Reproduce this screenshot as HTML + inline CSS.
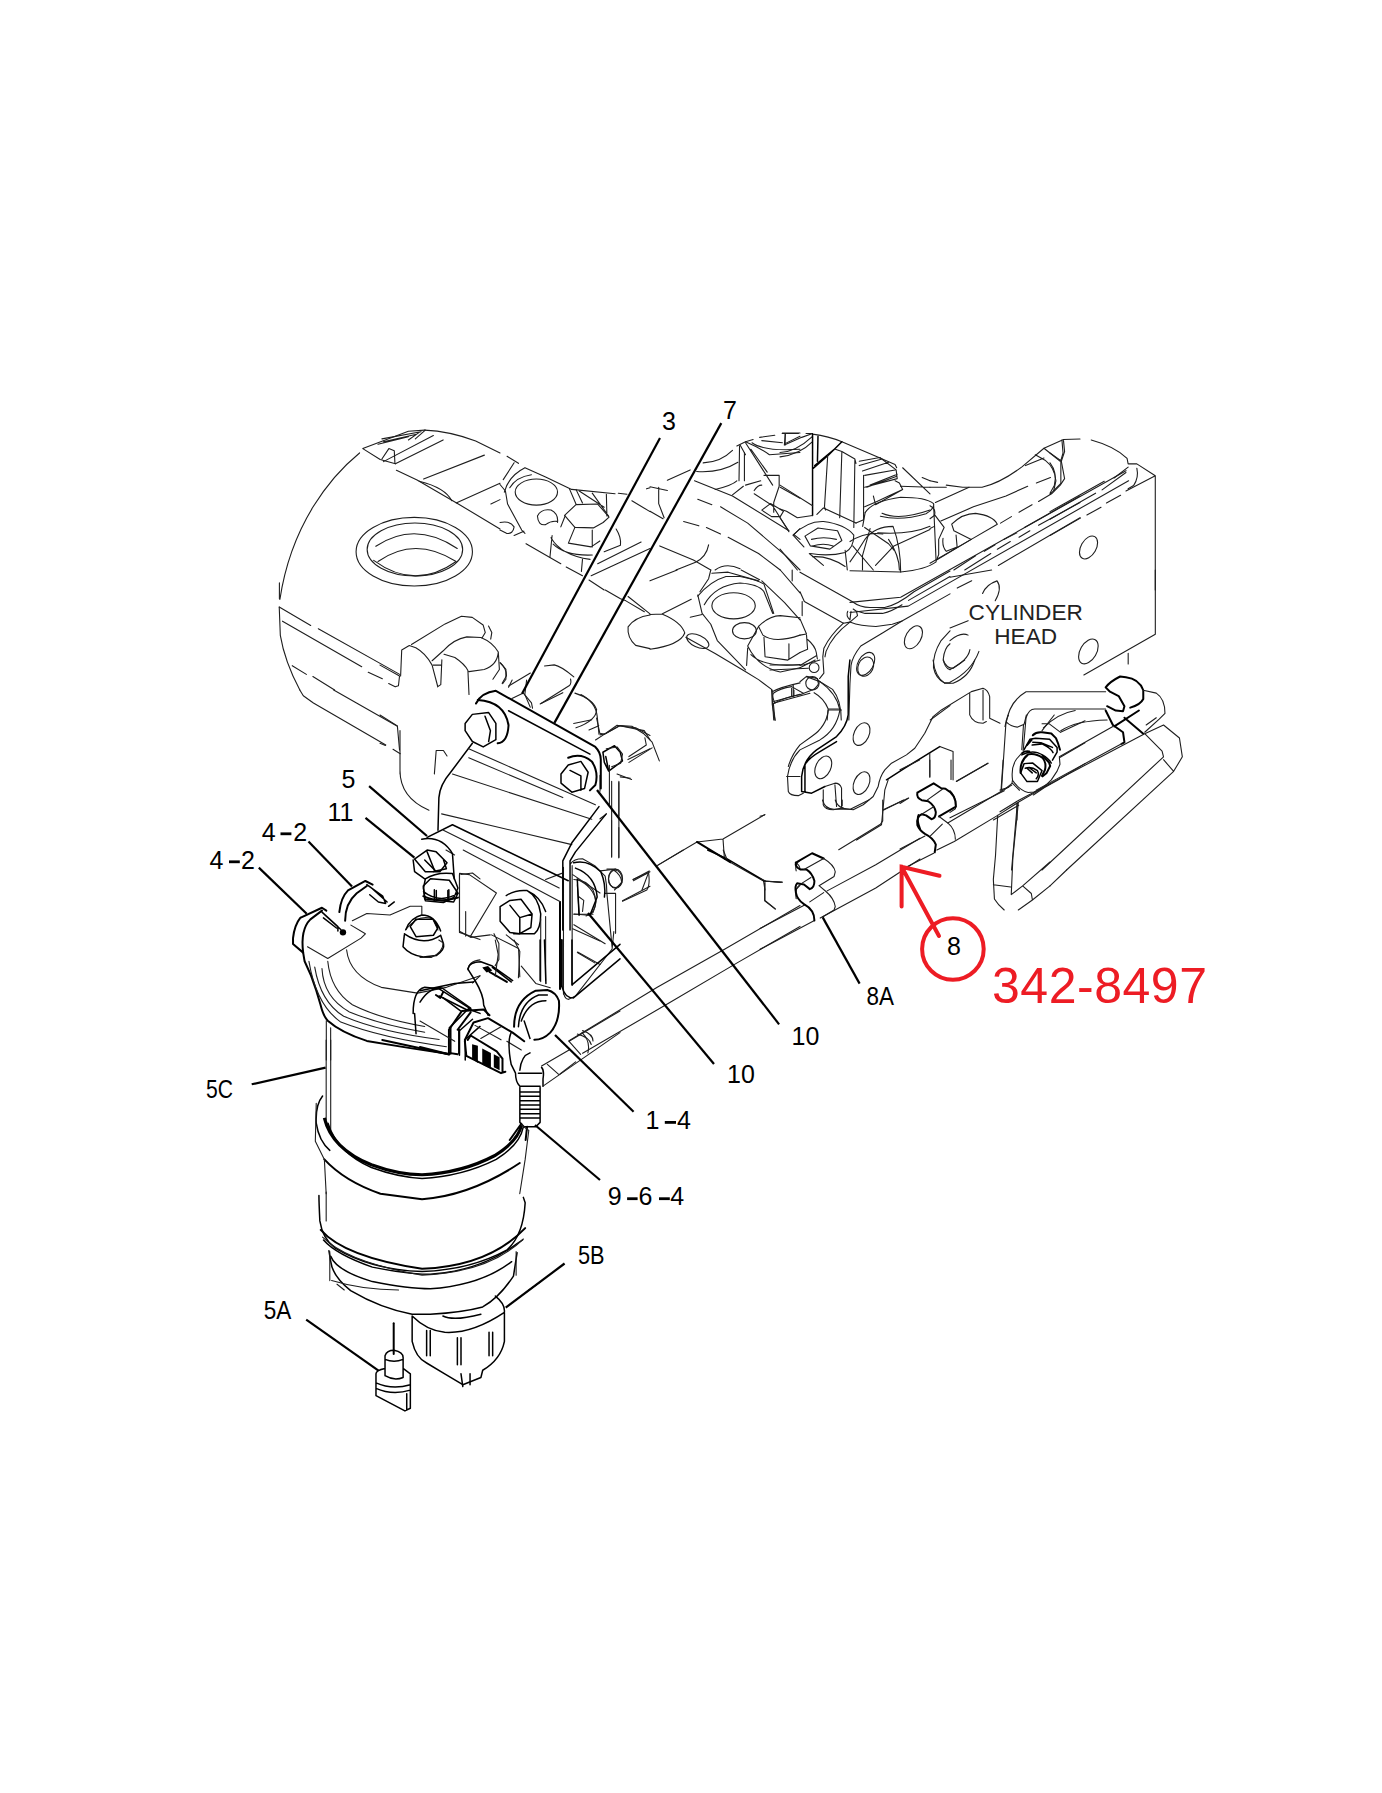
<!DOCTYPE html>
<html><head><meta charset="utf-8"><style>
html,body{margin:0;padding:0;background:#fff;}
svg{display:block;}
text{font-family:"Liberation Sans",sans-serif;}
.t{fill:none;stroke:#1e1e1e;stroke-width:1.1;vector-effect:non-scaling-stroke;stroke-linecap:round;stroke-linejoin:round;}
.m{fill:none;stroke:#000;stroke-width:1.5;vector-effect:non-scaling-stroke;stroke-linecap:round;stroke-linejoin:round;}
.k{fill:none;stroke:#000;stroke-width:2;vector-effect:non-scaling-stroke;stroke-linecap:round;stroke-linejoin:round;}
.L{fill:none;stroke:#000;stroke-width:2.2;stroke-linecap:butt;}
.lb{font-size:25px;fill:#000;}
</style></head><body>
<svg width="1382" height="1793" viewBox="0 0 1382 1793">
<rect width="1382" height="1793" fill="#fff"/>
<g transform="translate(200,390) scale(0.217077)">
<path class="t" d="M735,290 C600,400 420,620 368,965"/>
<path class="t" d="M365,1000 L370,1130 Q390,1250 460,1382"/>
<path class="t" d="M750,270 L830,320 L900,340 M750,270 L960,190 L1035,185"/>
<path class="t" d="M1035,185 Q1150,190 1270,235 L1382,290"/>
<path class="t" d="M900,340 L1120,230 M845,330 L1075,210"/>
<path class="t" d="M838,225 L1018,192 M845,238 L992,205 M820,250 L960,215 M992,225 L1038,185 M960,230 L1010,195 M838,318 L870,270 L895,280 L898,338"/>
<path class="t" d="M905,370 L1000,415 L1190,525 L1382,640"/>
<path class="t" d="M1030,410 L1310,300 M1180,520 L1382,430 M1340,525 L1382,505"/>
<path class="t" d="M1010,420 Q1130,450 1160,510"/>
<ellipse class="t" cx="987" cy="745" rx="268" ry="158"/>
<ellipse class="t" cx="990" cy="735" rx="220" ry="122"/>
<path class="t" d="M810,720 Q990,600 1185,730 M820,790 Q990,670 1180,790 M800,785 Q990,925 1180,790"/>
<path class="t" d="M365,1000 L510,1085 M545,1100 L920,1310 M380,1065 L745,1275 M425,1270 L490,1310 M520,1320 L620,1382 M775,1300 L840,1330"/>
</g>
<g transform="translate(300,1240) scale(0.180897)">
<path class="m" d="M130,0 Q200,80 400,150 Q600,190 720,190 Q1000,170 1200,20 L1230,0"/>
<path class="m" d="M170,90 Q200,170 400,230 Q600,270 720,270 Q1000,250 1170,120"/>
<path class="m" d="M160,60 L170,120 Q180,200 280,280 Q450,380 620,410 L720,410 Q900,400 1010,370 Q1100,320 1180,200 L1200,70"/>
<path class="m" d="M620,420 L620,560 Q640,650 700,680 L800,740 L900,800 L1000,760 L1010,720 Q1110,660 1130,560 L1130,390 M620,420 Q700,500 800,510 Q950,520 1130,400 M790,420 Q850,450 1000,410 M1080,310 Q1130,350 1130,390"/>
<path class="m" d="M700,500 L700,640 M720,500 L720,640 M870,540 L870,690 M890,540 L890,690 M1045,510 L1045,640 M1065,510 L1065,640 M890,740 L900,810 M940,740 L940,800"/>
<path class="m" d="M470,640 Q480,610 520,610 Q570,620 570,650 L570,760 M470,640 L470,750 M470,660 Q520,680 570,660 M470,750 Q520,780 570,760 M420,740 Q420,720 470,710 M420,740 L420,860 L580,945 L610,930 L610,740 L570,710 M420,790 Q510,830 610,800 M420,820 Q510,860 610,830 M590,850 L590,940"/>
<path class="k" d="M518,460 L518,630"/>
</g>
<g transform="translate(600,690) scale(0.144718)">
<path class="t" d="M0,310 L40,300 L140,245 L220,250 L300,300 L360,360 L410,490 M310,330 L320,380 L200,460 M360,400 L200,500"/>
<path class="m" d="M20,430 L100,385 L140,430 L155,490 L60,560 L30,500 Z M40,460 L60,560"/>
<path class="t" d="M65,520 L65,790 M130,640 L130,870 M80,900 L80,1150 M130,950 L130,1160 M0,590 L0,700 M140,600 L210,610 M0,890 L40,860"/>
<path class="t" d="M0,1250 L90,1240 Q150,1280 150,1330 L100,1382 M230,1310 L340,1250 L290,1382"/>
<path class="t" d="M400,1210 L670,1050 L850,1030 L1140,860 M850,1030 L860,1170 M900,1190 L1130,1320 L1250,1330"/>
<path class="k" d="M670,1050 L900,1190"/>
<path class="t" d="M1190,0 L1190,100 L1210,210 M1200,80 L1382,30 M1340,0 L1340,40 M1350,1190 Q1382,1210 1382,1240 M1350,1382 L1382,1350 M1130,1320 L1140,1382"/>
</g>
<g transform="translate(560,850) scale(0.173661)">
<path class="t" d="M50,1100 L560,790 L950,570 L1382,320 M0,1290 L90,1220 M130,1170 L630,880 L1020,650 L1382,440 M100,1060 Q170,1080 180,1120 M130,1040 Q190,1060 190,1100"/>
<path class="k" d="M0,300 L0,800"/>
<path class="t" d="M20,800 Q20,860 50,860 L90,840 L300,570 L310,470 M70,90 L70,780 M60,80 Q80,50 130,50 L200,90 L260,150 Q270,200 270,250 L300,560 M20,100 L20,830"/>
<path class="t" d="M80,170 Q150,170 190,230 Q220,300 190,360 L150,380 M100,200 L110,370 M80,370 L190,370"/>
<ellipse class="t" cx="320" cy="165" rx="40" ry="55"/>
<path class="t" d="M270,110 L320,110 M260,250 L320,250 M320,250 L320,480 M80,430 L260,540 M100,590 L200,650"/>
<path class="m" d="M850,0 L960,50 L1180,180"/>
<path class="t" d="M1180,180 L1280,185 M1180,180 L1180,290 L1240,340 M940,0 L960,50 M1382,60 Q1350,80 1360,120 M1382,200 Q1350,220 1360,280 M360,295 L500,230 Q520,200 510,130 L420,170 M560,90 L710,0"/>
</g>
<g transform="translate(760,800) scale(0.115774)">
<path class="t" d="M0,1110 L390,905 M580,785 L1000,560 L1382,330 M0,1290 L470,1040 M520,1020 L1000,760 L1382,510"/>
<path class="k" d="M310,540 L450,460 L550,505 M310,540 Q300,580 350,600 L400,600 Q450,630 470,700 Q470,760 430,770 L380,730 L320,720 Q300,740 310,800 Q320,860 380,900 Q470,950 470,1040"/>
<path class="t" d="M380,600 L550,505 Q640,560 650,620 L640,660 L510,740 M360,720 L440,670 M510,740 L570,790 Q640,850 650,920 L640,950 L540,1010 M430,880 L550,800"/>
<path class="t" d="M680,430 L1040,210 L1060,180 L1060,0 M1060,90 L1240,0 M540,0 Q560,80 640,80 L780,80 L940,0 M650,0 Q670,60 720,70 M710,0 L710,50"/>
<path class="t" d="M0,140 L40,130 M0,680 L50,700 L190,710 M40,720 L40,870 L130,940"/>
<path class="k" d="M1370,130 Q1350,170 1382,250"/>
</g>
<g transform="translate(770,660) scale(0.166425)">
<path class="t" d="M300,130 Q400,200 420,300 Q400,420 300,480 L180,540 Q120,600 105,700 L110,790 Q120,815 170,815 L200,800 M350,300 L430,300 M350,300 Q340,400 250,460 L180,510 Q130,570 110,640"/>
<path class="m" d="M480,0 L470,100 L470,330 Q460,400 400,460 L280,540 Q200,600 190,700 L190,790 L250,800 L330,760 M210,630 Q230,590 300,550 L400,490 M210,630 L210,790"/>
<path class="t" d="M100,700 L180,700 M320,780 L320,870 Q330,900 380,900 L430,890 L430,770 Q420,740 390,740 L330,760 M390,750 L400,880"/>
<path class="t" d="M430,890 L500,900 L560,870 L620,820 L650,760 Q660,700 690,660 L730,620 L820,570 L870,530 L930,440 L980,340 L1030,300 L1210,190 L1280,170 Q1310,180 1320,220 L1320,350 L1382,380"/>
<path class="t" d="M1200,200 L1200,330 Q1220,380 1280,380 L1300,370 M1280,180 L1280,360"/>
<ellipse class="t" cx="550" cy="445" rx="45" ry="72" transform="rotate(25 550 445)"/>
<ellipse class="t" cx="320" cy="645" rx="45" ry="72" transform="rotate(25 320 645)"/>
<ellipse class="t" cx="550" cy="740" rx="45" ry="72" transform="rotate(25 550 740)"/>
<ellipse class="t" cx="575" cy="40" rx="45" ry="60" transform="rotate(25 575 40)"/>
<path class="m" d="M700,720 L810,650 L1020,520"/>
<path class="t" d="M1020,520 L1100,550 L1100,720 M710,720 L690,780 L670,990 L520,1082 M960,560 L960,700 M680,900 L830,830 M1120,730 L1310,620"/>
<path class="t" d="M980,0 Q990,100 1050,140 L1100,140 Q1200,100 1230,0 M1040,0 Q1060,50 1100,50 L1170,0"/>
<path class="t" d="M0,30 L200,30 L300,0 M0,60 L230,50 M220,100 L300,130 M20,200 Q60,170 130,160 L200,200 M20,260 L240,200 M20,260 L30,360 M30,260 Q10,220 20,200 M130,170 L130,220"/>
<circle class="t" cx="255" cy="140" r="40"/>
</g>
<g transform="translate(380,600) scale(0.108538)">
<path class="t" d="M0,600 L180,700 L170,790 L140,800 L80,770 M190,700 L200,460 L270,420 L330,440 Q420,490 480,600 L530,790 M290,410 L600,220 L750,150 L850,160 L950,230 L970,300 L940,350"/>
<path class="t" d="M580,470 Q680,360 800,340 L930,345 Q1040,390 1090,480 Q1080,600 960,640 L820,660 M590,500 L690,530 Q780,590 810,650 L820,870 M490,600 L560,600 M570,550 L560,780 L530,800 M480,560 L580,470 M1000,240 L1030,300 L1020,360 M1090,480 L1100,640 L1040,730 M1110,580 L1160,640 L1160,730 L1130,770"/>
<path class="t" d="M0,1060 L160,1160 L180,1382 M0,1320 L50,1340"/>
</g>
<g transform="translate(1005,715) scale(0.057887)">
<path class="m" d="M330,840 L480,830 L640,960 L560,1150 L380,1150 L270,1000 Z M350,920 Q450,880 560,960 Q600,1030 540,1100 M380,920 L470,1000 M430,920 L540,1000"/>
<path class="k" d="M270,1000 Q250,800 400,680 Q520,650 650,740 Q720,820 690,950 L640,1050"/>
<path class="m" d="M290,690 Q420,620 560,650 Q700,700 780,800 L800,830"/>
<path class="k" d="M300,660 Q330,620 420,630 M650,700 L760,820 L780,880 L720,1000 L650,1060"/>
<path class="m" d="M330,600 L430,420 L530,400 L770,420 L900,560 L900,640 L820,780 M480,470 L620,480 L820,560 M470,520 L640,500 Q800,580 830,650"/>
<path class="k" d="M380,520 L460,430 M480,350 Q540,290 640,300 L800,320 L880,400 L920,500 L950,600"/>
<path class="t" d="M130,1120 Q100,900 200,760 L290,660 M130,1130 Q250,1300 400,1340 L500,1330 Q650,1280 800,1120 L900,970 L950,850 L940,740"/>
<path class="t" d="M940,740 L1382,480 M490,1382 Q700,1230 900,1130 L1382,840 M960,300 L1382,100 M640,270 L850,0 M640,150 L760,150 L960,300"/>
<path class="t" d="M0,200 L20,100 L60,0 M20,120 Q100,200 210,210 L330,160 L370,0 M320,160 L290,600 M0,1280 L120,1180 L130,1120 M130,1180 L250,1300"/>
</g>
<g transform="translate(270,580) scale(0.144718)">
<path class="t" d="M206,760 L230,800 L300,850 L800,1140 M440,760 L880,1010 M850,1170 L900,1200 M65,20 L65,130"/>
</g>
<g transform="translate(850,420) scale(0.25326)">
<path class="t" d="M60,365 Q90,320 200,305 Q300,305 330,330 M120,380 Q200,400 300,370 Q335,350 330,330 M330,330 L340,560 Q300,590 200,600 L0,595"/>
<path class="t" d="M0,560 Q30,520 60,470 Q100,420 170,420 Q200,500 200,600 M0,480 Q60,440 130,450 M60,365 L50,420"/>
<path class="t" d="M0,720 L200,700 L1090,200 M0,760 L230,735 L1100,240"/>
</g>
<g transform="translate(430,850) scale(0.12301)">
<path class="m" d="M620,370 Q700,320 790,330 Q880,380 900,520 Q900,640 850,680 L680,680 M790,330 Q900,380 940,500"/>
<path class="m" d="M570,460 L650,410 L740,400 L830,520 L820,630 L730,680 L650,670 L570,580 Z M650,450 L730,550 L830,520 M730,550 L730,680"/>
<path class="t" d="M240,190 L320,200 L540,350 M240,190 L240,660 L330,710 L490,690 M290,500 L290,700 M330,700 L540,350 M520,680 L560,760 L560,890 L530,940 M500,690 L720,800 L730,1030 M940,540 L940,1060 M900,560 L900,1070 M620,690 L720,770"/>
<path class="t" d="M130,0 L200,40 M270,0 L1060,420 M940,240 L1070,190"/>
<path class="t" d="M1160,200 L1382,350 M1200,240 Q1330,300 1350,420 Q1340,500 1290,530 L1170,520 M1210,380 L1250,410 L1240,500 M1160,640 L1382,740 M1200,830 L1382,930"/>
</g>
<g transform="translate(500,440) scale(0.108538)">
<path class="t" d="M65,150 L170,215 M130,210 L30,365 M0,410 L50,470 L70,590 L200,830 L230,860"/>
<path class="t" d="M40,480 Q80,330 230,255 L420,340 L660,455 L1060,495 M90,440 Q150,340 290,320"/>
<ellipse class="t" cx="335" cy="480" rx="195" ry="120"/>
<path class="t" d="M530,760 Q540,680 470,645 Q380,630 345,700 Q350,790 420,780 Q470,740 530,750"/>
<path class="t" d="M595,695 L700,595 L900,590 L1005,710 L950,760 L860,810 L690,805 Z"/>
<path class="t" d="M690,805 L630,950 L840,985 L920,930 M850,830 L850,985 M600,700 L560,800"/>
<path class="t" d="M470,900 Q560,1060 830,1100 M490,960 Q600,1070 850,1060 M480,880 L460,1080 M1070,820 Q1120,900 1110,970 L960,1030"/>
<path class="t" d="M240,955 L560,1140 M610,1170 L760,1250 M820,1290 L960,1382 M840,1250 L1382,1000 M900,1140 L1300,940"/>
<path class="t" d="M1215,560 L1382,660 M1090,490 L1170,500 M1350,450 L1382,440"/>
<path class="t" d="M0,760 Q90,740 130,800 Q120,870 60,860 L0,830 M130,880 L220,840"/>
<path class="t" d="M640,450 L700,590 M700,455 L760,580 M730,470 L960,620 M850,490 L1000,700 M980,500 L985,700"/>
<path class="t" d="M760,1100 L750,1210"/>
</g>
<g transform="translate(650,420) scale(0.108538)">
<path class="t" d="M490,395 Q650,390 760,280 M430,475 Q650,490 810,390 M600,640 Q760,600 800,560"/>
<path class="t" d="M800,240 L880,200 L950,180 M825,240 L820,560 M870,300 L870,560"/>
<path class="t" d="M830,230 L880,320 M880,210 L1130,600 M930,270 L1080,480"/>
<path class="t" d="M880,200 Q1000,250 1100,320 L1382,300 M940,210 Q1050,290 1382,270 M1010,160 L1150,140 M1030,190 L1220,210 M1220,120 L1382,120 M1245,130 L1245,230 M1240,220 L1382,150"/>
<path class="t" d="M410,560 L760,700 L1280,1020 M440,730 L570,780 M650,800 L900,950 L1250,1250 L1382,1382 M720,1080 L1000,1230 L1200,1382 M310,935 L450,975 M520,990 L650,1050"/>
<path class="t" d="M0,615 L160,650 M80,620 L80,770 L130,900 M0,840 L120,910 M160,555 L370,460"/>
<path class="t" d="M90,1160 L400,1290 L560,1382 M540,1150 Q520,1260 420,1310 L240,1382 M600,1382 Q700,1310 830,1370"/>
<path class="t" d="M960,650 Q990,600 1030,600 M960,680 L1130,790 L1280,1030 M1050,510 L1190,510 L1190,610 L1140,760 L1140,850 M1200,620 L1382,720 M1030,830 L1110,770 L1230,840 L1200,890 L1120,890 Z M1320,1060 L1382,1000 M1330,1060 L1382,1100"/>
<path class="t" d="M880,600 L1020,560 M760,690 L860,610"/>
</g>
<g transform="translate(500,590) scale(0.108538)">
<path class="t" d="M0,670 Q60,720 60,790 L20,860 M80,885 L280,765 M110,1000 L215,950 L290,1040 L300,1090"/>
<path class="t" d="M410,700 L500,690 Q560,700 680,800 M650,820 Q660,860 640,880 L370,1050"/>
<path class="t" d="M690,950 Q850,1000 890,1100 Q890,1200 700,1270 M890,1180 L920,1320 L960,1330 L1100,1250 L1250,1270 L1382,1340 M820,1290 L910,1250 M880,1382 L960,1330"/>
<path class="t" d="M1180,60 L1382,220 M970,0 L1110,80 L1160,100 L1330,200 M1382,230 Q1240,250 1180,340 Q1170,440 1250,510 L1382,540"/>
</g>
<g transform="translate(650,570) scale(0.108538)">
<path class="t" d="M0,100 L250,0 M0,410 L110,405 L380,270 M110,405 Q290,480 320,580 Q280,690 0,730"/>
<ellipse class="t" cx="440" cy="655" rx="110" ry="55" transform="rotate(25 440 655)"/>
<path class="t" d="M370,435 L480,410 M330,620 L600,770 L870,930 L1000,1010 L1120,1100 L1140,1382"/>
<path class="t" d="M440,230 L480,400 L560,500 L620,650 L880,920"/>
<path class="t" d="M440,240 Q560,100 700,60 L830,60 Q990,90 1050,130 L1140,400 M500,320 Q600,140 830,120 Q1000,130 1050,200 L1130,400"/>
<ellipse class="t" cx="770" cy="330" rx="200" ry="120"/>
<path class="t" d="M560,0 L540,80 L460,200 M570,30 L720,20 L1000,100"/>
<ellipse class="t" cx="870" cy="560" rx="110" ry="75"/>
<path class="t" d="M1000,520 Q1100,420 1200,420 L1382,440 M1000,520 L1040,600 Q1150,680 1382,600 M1050,620 L1060,800 L1270,830 L1382,760 M1280,680 L1280,820"/>
<path class="t" d="M900,700 Q1000,900 1200,940 L1382,900 M930,780 Q1050,900 1382,870 M900,720 L890,880 M1000,520 L900,700"/>
<path class="t" d="M1130,1120 Q1200,1080 1382,1040 M1140,1230 Q1250,1170 1382,1150 M1320,1060 L1320,1170"/>
<path class="t" d="M1030,100 L1240,300 L1382,460 M840,0 L1010,90 M1200,0 L1382,210 M1310,0 L1310,100"/>
</g>
<g transform="translate(780,420) scale(0.108538)">
<path class="t" d="M20,125 L170,125 M240,125 L300,125 M300,130 Q450,150 570,200 L900,340 L1060,410 L1075,440"/>
<path class="t" d="M50,130 L40,230 L200,160 L300,125 M0,300 Q150,290 300,150 M0,340 Q180,320 300,200"/>
<path class="m" d="M300,130 L300,880 M350,150 L345,380 M300,450 L450,320 L570,200 M320,420 L500,270"/>
<path class="t" d="M440,320 L410,800 L420,830 M510,270 L570,290 L690,360 L700,400 M570,290 L550,900 M690,360 L680,990 M770,510 L770,920 L700,950"/>
<path class="t" d="M730,380 L920,345 L1070,460 L1080,540 L780,620 M730,420 L940,360 M760,470 L1000,390 M780,510 L1060,460 M800,620 L1070,520 M830,600 L1080,500"/>
<path class="t" d="M860,700 L880,780 L1130,640 L1100,580 L1060,560 M780,800 Q900,750 1000,700 L1130,640"/>
<path class="t" d="M0,600 L300,790 M0,820 L60,840 L160,900 L300,880 M340,870 L400,810 L700,950 M0,900 L80,1020"/>
<path class="t" d="M120,1060 Q250,930 400,935 Q600,960 680,1060 Q680,1180 600,1220 Q450,1260 280,1230 M230,1070 L350,995 L530,1020 L570,1110 L460,1190 L280,1160 Z M290,1100 Q400,1070 520,1100 M300,1160 Q400,1130 490,1160 M120,1060 L220,1170 M0,1190 L160,1382"/>
<path class="t" d="M940,860 Q1100,930 1382,830 M900,1040 Q1200,1060 1382,980 M780,990 L1000,1140 L1050,1200 M880,1340 L1050,1160 L1382,1010 M1000,1100 Q1100,1250 1100,1382 M830,1000 L760,1250 L760,1382 M670,1160 L860,1382"/>
<path class="t" d="M1130,440 L1382,680 M1310,530 L1382,560 M1110,610 L1382,620 M270,1230 L400,1340 M300,1260 Q450,1250 600,1350 M600,1200 L620,1382"/>
</g>
<g transform="translate(930,420) scale(0.108538)">
<path class="t" d="M0,620 L150,620 M150,600 L300,620 L480,620 Q650,580 850,430 L1050,260 L1230,180 L1382,175 M0,560 L70,575"/>
<path class="t" d="M1230,190 L1240,290 L1210,380 L1240,540 L1200,600 L1120,680 L1000,750 M970,320 L1060,370 Q1150,440 1160,560 L1140,650 M1050,260 L1200,380 M880,420 L1050,350"/>
<path class="t" d="M50,760 L360,620 M100,930 L400,800 L700,700 L900,610 M980,580 L1110,530 M820,850 L940,780 M0,1000 L40,980 M650,950 L750,890"/>
<path class="t" d="M60,1290 L380,1100 L620,960 M200,960 Q300,860 420,860 Q580,880 620,960 M200,960 L220,1020 L380,1100"/>
<path class="t" d="M0,790 Q60,820 40,880 L0,910 M40,870 L130,990 M130,990 L80,1100 L80,1240 L60,1290 M120,1090 Q110,1170 150,1210 L250,1170 L240,1060 M0,1320 L380,1100"/>
<path class="t" d="M870,990 L1382,700 M1000,970 L1382,760 M630,1340 L1382,900 M680,1100 L800,1040 M820,1080 L920,1020 M500,1210 L600,1150 M620,1190 L740,1120 M220,1382 L420,1250 M320,1382 L560,1230"/>
</g>
<g transform="translate(1050,440) scale(0.108538)">
<path class="t" d="M380,0 Q600,60 710,170 L720,220 L800,220 L970,330 M970,330 L970,1382 M970,330 L700,470"/>
<path class="t" d="M800,260 Q820,350 770,420 L720,450 M720,250 L590,350 M700,300 L480,460"/>
<path class="t" d="M0,660 L500,380 M0,730 L420,490 M520,580 L650,510 M340,690 L470,620 M0,880 L280,720"/>
<ellipse class="t" cx="355" cy="990" rx="70" ry="115" transform="rotate(30 355 990)"/>
<path class="t" d="M0,120 L100,190 L120,120 L110,0 M0,210 Q70,300 40,420 L0,490 M100,180 L100,400 L0,500"/>
</g>
<g transform="translate(800,570) scale(0.108538)">
<path class="t" d="M0,20 L480,290 Q560,350 660,345 L780,345 Q900,320 1050,200 L1382,10 M530,380 L600,400 L760,400 Q850,380 940,320 M1000,280 L1382,60"/>
<path class="t" d="M460,480 Q560,520 700,520 L850,500 L940,470 L1382,220 M0,200 L40,290 L400,490 L460,480"/>
<path class="t" d="M440,380 Q420,420 460,460 L470,380 M490,360 L520,380 L530,420 L460,480"/>
<path class="t" d="M400,490 Q280,600 220,720 L210,800 L220,950 L180,1000 M460,480 Q300,600 240,750 L230,800"/>
<path class="t" d="M940,470 L760,580 L560,700 Q480,800 470,880 L460,1050 L450,1382"/>
<ellipse class="t" cx="1045" cy="620" rx="70" ry="115" transform="rotate(30 1045 620)"/>
<ellipse class="t" cx="605" cy="865" rx="70" ry="115" transform="rotate(30 605 865)"/>
<path class="t" d="M1382,560 L1300,650 Q1220,780 1230,900 Q1250,1000 1330,1040 L1382,1040 M1382,680 Q1330,720 1320,820 Q1330,900 1382,920"/>
<path class="t" d="M20,290 L20,420 M0,450 L60,590 L0,600 M60,600 L70,730 L0,760 M70,640 Q140,700 150,760 L160,820 M0,880 L150,790 M0,900 L140,830 M60,980 L160,1000 L170,1050 Q140,1100 100,1110 L0,1150 M0,1030 L60,980 M170,1020 L300,1100 Q380,1200 380,1382 M130,1130 Q220,1180 260,1280 L250,1382 M260,1280 L370,1280 M1200,1382 L1382,1250"/>
<circle class="t" cx="130" cy="900" r="45"/>
</g>
<g transform="translate(950,570) scale(0.180897)">
<path class="t" d="M1135,0 L1135,355 L740,580 M985,460 L985,520"/>
<ellipse class="t" cx="765" cy="450" rx="45" ry="75" transform="rotate(30 765 450)"/>
<path class="t" d="M0,40 L230,0 M40,100 L120,60 M180,130 Q200,80 260,60 Q290,100 250,170 M0,320 L100,280 M0,390 Q60,340 100,360 M0,550 Q100,500 110,440 M0,620 Q120,560 160,450"/>
<path class="t" d="M0,1220 Q40,1260 30,1320 L0,1340 M0,1370 L300,1220 M240,1382 L380,1300 M370,1290 L370,1382"/>
</g>
<g transform="translate(1000,670) scale(0.144718)">
<path class="t" d="M0,830 L60,810 M10,830 L40,380 Q60,220 180,150 L730,150 M160,560 L180,330 Q200,270 240,270 L730,270"/>
<path class="k" d="M730,120 Q760,80 830,45 L870,50 Q960,60 990,140 L990,200 Q970,240 900,260 M730,120 L760,150 L820,180 L860,250 L850,285 L800,280 L740,250"/>
<path class="k" d="M730,280 L780,380 L850,430 L860,500 L840,510 M790,390 L960,280 M860,330 L990,440"/>
<path class="t" d="M300,400 Q400,300 520,280 M420,420 Q520,350 740,345 M410,600 L780,390 M250,830 L840,510"/>
<path class="t" d="M0,980 L130,900 L1000,440 L1130,380 L1240,470 L1260,600 L1200,700 L460,1382 M1000,440 L1120,560 L1130,600 L290,1382 M1130,620 L1200,700"/>
<path class="t" d="M990,140 L1080,160 Q1140,200 1140,300 L1100,340 L1000,430 M1080,330 L1010,380"/>
<path class="t" d="M120,920 L80,1382"/>
</g>
<g transform="translate(900,760) scale(0.108538)">
<path class="t" d="M0,820 L230,700 M440,580 L930,290 L1030,230 M50,990 L310,860 M340,830 L500,750 L900,510 L1090,390 L1382,220"/>
<path class="t" d="M0,400 L80,350 M0,90 L180,0 M275,0 L275,160 M470,0 L470,180 M520,195 L810,30"/>
<path class="k" d="M160,300 L310,215 L380,260 L420,265 Q520,320 515,430 L360,520 M160,300 Q150,350 200,370 L260,380 Q320,420 330,480 Q330,540 290,545 L240,510 L200,500 Q150,520 160,600 Q180,650 230,680 Q310,720 330,780 L320,850"/>
<path class="t" d="M250,370 L390,270 M200,500 L310,430 M360,520 L440,580 Q510,640 510,730 M280,700 L390,590"/>
<path class="t" d="M950,0 L930,290 M900,510 L880,880 L860,1100 L870,1280 Q900,1330 960,1382 M1090,390 L1080,500 L1040,900 L1025,1240 L1130,1160 L1382,940 M860,1150 L1020,1170 M1130,1160 L1210,1230 L1220,1290 M1220,1290 L1382,1160 M1090,1382 L1220,1290"/>
</g>
<path class="t" d="M1050,885.9 L1066.6,870"/>
<g transform="translate(400,680) scale(0.180897)">
<path class="k" d="M420,130 Q450,70 530,60 L1080,370 Q1110,400 1110,440 L1110,600"/>
<path class="m" d="M600,170 L1050,410 M280,510 L400,350 M280,510 Q220,580 215,650 L210,830"/>
<path class="k" d="M430,110 Q580,120 600,250 Q595,345 540,350"/>
<path class="m" d="M360,240 L400,190 L490,180 L530,240 L530,330 L460,370 L400,340 L360,280 Z M470,200 L500,280 L490,340"/>
<path class="k" d="M930,430 Q1000,400 1060,450 Q1100,510 1080,580 L1050,610"/>
<path class="m" d="M890,520 L930,470 L1000,450 L1040,510 L1020,600 L950,620 L890,570 Z M940,500 L1000,530 L1000,610"/>
<path class="t" d="M380,380 L1080,690 M290,520 L1060,770 M230,740 L950,910 M380,430 L900,650"/>
<path class="m" d="M150,870 L290,800 L930,1110"/><path class="t" d="M240,830 L880,1150"/>
<path class="m" d="M1100,700 L950,900 L900,1000 L900,1382 M1140,740 L970,950 L940,1000 L940,1382"/>
<path class="m" d="M960,1010 Q1040,990 1110,1060 Q1140,1130 1130,1200 M970,1040 Q1080,1080 1090,1200 L1050,1300 M980,1100 L990,1300"/>
<ellipse class="t" cx="1190" cy="1100" rx="38" ry="48"/>
<path class="m" d="M80,990 L150,940 L200,950 L260,1010 L220,1060 L140,1060 Z M150,950 L190,1050 M120,880 Q230,860 290,960 L300,1100"/>
<path class="m" d="M140,1100 Q200,1060 290,1070 L320,1150 L300,1200 L240,1230 L140,1220 L130,1150 Z M130,1170 Q220,1240 320,1180 M190,1160 L190,1220 M270,1160 L270,1220"/>
<path class="t" d="M0,500 Q0,650 160,720 M200,390 L240,390 L260,420 M200,390 L190,520 M0,280 L0,520"/>
<path class="t" d="M700,0 L690,80 L720,150 M620,0 L600,40 M1000,80 Q1080,120 1090,200 L1100,300 M1130,300 L1200,250 L1350,280 L1382,330 M1140,380 L1200,370 L1230,410 L1220,460 L1170,480"/>
<path class="t" d="M780,130 L900,70 M960,240 L1060,220 M1170,560 L1170,980 M1210,560 L1210,980 M1200,520 L1280,550 M1260,440 L1382,380 M1290,1110 L1382,1060 M1230,1220 L1382,1140"/>
<path class="t" d="M30,1382 Q100,1290 180,1320 L210,1382"/>
</g>
<g transform="translate(280,860) scale(0.144718)">
<path class="k" d="M140,400 L290,330 L320,350 M90,540 Q100,450 140,400 M160,640 Q140,480 210,410 L290,350 M90,540 L90,580 L160,640"/>
<path class="m" d="M290,360 L400,460 L400,490 M300,400 L390,470 M310,380 L420,480"/>
<circle cx="435" cy="500" r="22" fill="#000"/>
<path class="k" d="M470,210 L590,145 L640,170 M410,360 Q420,260 470,210 M450,420 Q450,300 530,230 L600,180"/>
<path class="m" d="M600,170 L710,250 L730,300 L680,290 L620,240 M750,320 L790,290 M640,200 L740,290"/>
<path class="k" d="M160,640 L170,700 Q220,800 250,900 L280,1000 Q300,1080 330,1110 Q420,1190 600,1250 L900,1300 L1170,1340"/>
<path class="t" d="M330,700 Q350,900 500,1000 Q700,1100 1000,1150 M290,750 Q300,950 480,1050 Q700,1140 1000,1190 M240,740 Q280,980 440,1080 Q700,1190 1100,1240 M200,700 Q250,1000 420,1120 Q700,1230 1150,1290"/>
<path class="t" d="M190,600 L330,680 L560,540 L590,510 L490,450 M460,620 Q480,800 700,880 L950,920 Q1050,900 1150,880 L1382,800"/>
<path class="m" d="M870,480 Q900,400 980,380 Q1070,380 1110,490 M860,510 Q990,600 1110,520 M900,460 L940,410 L1060,410 L1090,470 L1060,520 L940,530 Z M850,600 Q900,660 990,670 L1080,660 Q1140,620 1130,580 M860,510 L850,600 M1110,520 L1130,580"/>
<path class="t" d="M500,420 L600,370 L760,380 L900,320 L980,320 L980,380"/>
<path class="m" d="M990,180 L1040,130 L1170,140 L1230,230 L1200,290 L1000,270 Z M1080,210 L1080,270 M1160,210 L1160,280 M1000,130 L930,80 L920,0 M1070,70 L1000,0 M1130,0 L1150,60 L1060,80"/>
<path class="k" d="M990,250 Q1100,300 1230,260"/>
<path class="t" d="M1250,100 L1330,90 L1382,130 M1240,100 L1240,500 M1240,500 L1382,550 M1300,760 Q1300,700 1382,690 M1382,800 L1330,850"/>
<path class="m" d="M920,1060 Q920,900 1000,880 L1100,890 L1320,1030 M930,1060 L940,1200 M1100,940 L1300,1040 M1170,1160 L1300,1030 L1382,1060 M1180,1340 L1180,1160 M1240,1350 L1240,1180 L1330,1100 M1280,1382 L1280,1240 L1382,1150"/>
<path class="t" d="M320,1110 L320,1382 M350,1160 L350,1382"/>
</g>
<g transform="translate(420,940) scale(0.144718)">
<path class="t" d="M0,120 L80,120 Q160,80 160,20 L130,0"/>
<path class="m" d="M330,200 Q340,150 420,150 L500,180 L640,280 M330,200 L380,280 Q440,380 440,450 L470,520 M500,190 L630,290"/>
<path d="M430,190 L470,180 L500,210 L460,225 Z" fill="#000"/>
<path class="k" d="M480,220 L600,290"/>
<path class="m" d="M0,430 Q60,330 150,330 L350,470 M160,400 L280,490 M0,350 L240,300 L370,290"/>
<path class="k" d="M110,380 L140,400 L160,360"/>
<path class="k" d="M200,620 L290,490 L440,480 L480,520 M200,620 L200,780 L260,790 M260,620 L350,500 M270,780 L270,620 M310,690 L370,570 L470,540 L640,640 L720,700 M310,700 L320,800 L560,920 L590,910 M330,690 L350,660 L530,770 L570,820 L570,910"/>
<path d="M360,720 L400,730 L400,850 L360,820 Z M430,750 L490,780 L490,890 L430,860 Z M510,790 L550,810 L550,900 L510,880 Z" fill="#000"/>
<path class="t" d="M380,590 L560,690 M420,680 L560,600 M600,700 L700,760"/>
<path class="k" d="M650,600 Q650,420 800,350 L880,345 Q940,360 960,420 Q970,560 900,640 Q850,690 790,690"/>
<path class="m" d="M680,600 Q690,430 820,380 L880,380 M700,560 Q750,420 870,420 M720,560 L760,680"/>
<path class="m" d="M630,640 Q600,700 630,860 L660,920 Q660,980 690,1010 M840,880 Q860,900 850,960 L850,1010 M690,1010 L830,1010 M760,780 Q700,800 690,900 M680,920 L840,920"/>
<path class="m" d="M690,1020 L690,1260 L720,1290 L800,1290 L830,1260 L830,1020 M690,1050 L830,1050 M690,1080 L830,1080 M690,1110 L830,1110 M690,1140 L830,1140 M690,1170 L830,1170 M690,1200 L830,1200 M690,1230 L830,1230"/>
<path class="k" d="M700,1270 L620,1382 M740,1290 L730,1382"/>
<path class="t" d="M840,870 L1030,760 M1030,700 L1382,490 M850,1010 L1382,640 M1030,700 L1110,790 M1120,640 Q1180,700 1160,780 M880,860 L960,930"/>
<path class="k" d="M980,0 L980,320"/>
<path class="m" d="M980,320 Q1000,400 1060,400 L1382,130 M1050,0 L1050,310 L1382,30 M860,0 L870,300 M830,0 L830,280"/>
<path class="t" d="M520,0 L540,100 L520,250 M650,0 L690,80 L680,260 M700,180 L800,300 L900,330 M0,560 L240,700"/>
<path class="k" d="M0,740 L200,790"/>
</g>
<g transform="translate(290,1040) scale(0.180897)">
<path class="t" d="M200,0 L200,440 M225,0 L225,520"/>
<path class="k" d="M510,0 L880,80"/>
<path d="M190,430 Q230,600 450,690 Q600,745 730,745 Q950,735 1130,640 Q1260,560 1280,470" fill="none" stroke="#000" stroke-width="3.2" vector-effect="non-scaling-stroke"/>
<path class="m" d="M180,310 Q140,360 145,460 Q160,560 220,610 M210,460 Q260,620 450,705 Q600,760 730,765 Q950,755 1140,660 Q1270,580 1290,480"/>
<path class="k" d="M190,660 Q300,780 500,850 L730,880 Q1000,860 1270,680"/>
<path class="t" d="M145,350 L140,560 L190,660 L200,850 M1320,500 L1300,660 L1270,850 M1280,470 L1320,500"/>
<path class="m" d="M160,860 Q160,900 165,1000 Q180,1100 250,1150 Q450,1270 730,1280 Q1000,1270 1200,1160 Q1290,1080 1300,900 L1290,870"/>
<path class="k" d="M170,1050 Q300,1200 730,1265 Q1100,1250 1300,1040"/>
<path class="t" d="M180,1090 Q320,1230 730,1300 Q1100,1285 1290,1100 M200,840 L200,1000 M220,1170 L220,1330 M260,1350 L300,1382 M1250,1170 L1250,1300 M1320,1382 L1382,1340"/>
<path class="t" d="M230,1330 Q400,1382 600,1382"/>
</g>

<!-- leader lines -->
<g class="L">
<path d="M660,437.9L522,693.7"/>
<path d="M721.3,423.1L554.4,722.9"/>
<path d="M369.1,786.2L427,836"/>
<path d="M365.5,817.9L414.4,857.7"/>
<path d="M308.5,841.4L352,886.6"/>
<path d="M258.8,867.6L306.7,913.8"/>
<path d="M597,790L779.1,1024.3"/>
<path d="M588,913L714,1064"/>
<path d="M555,1035L633.6,1111.8"/>
<path d="M535,1125L600,1180"/>
<path d="M822.7,917.4L859.6,983.6"/>
<path d="M251.7,1084.3L325.6,1067.6"/>
<path d="M564.6,1263.5L505.7,1307.6"/>
<path d="M306.2,1319.7L378.5,1370.6"/>
</g>
<!-- labels -->
<g class="lb">
<text x="662" y="430">3</text>
<text x="723" y="418.5">7</text>
<text x="341.5" y="788">5</text>
<text x="327.5" y="820.5">11</text>
<text x="261.8" y="841.4">4</text><text x="293.3" y="841.4">2</text>
<text x="209.4" y="868.5">4</text><text x="240.9" y="868.5">2</text>
<text x="791.5" y="1044.5">10</text>
<text x="727" y="1082.5">10</text>
<text x="645.5" y="1129.2">1</text><text x="677.1" y="1129.2">4</text>
<text x="607.7" y="1205.1">9</text><text x="638.6" y="1205.1">6</text><text x="670.2" y="1205.1">4</text>
<text x="866.5" y="1004.9" textLength="27.5" lengthAdjust="spacingAndGlyphs">8A</text>
<text x="206" y="1097.5" textLength="27" lengthAdjust="spacingAndGlyphs">5C</text>
<text x="578" y="1263.5" textLength="26.6" lengthAdjust="spacingAndGlyphs">5B</text>
<text x="263.8" y="1318.9" textLength="27.6" lengthAdjust="spacingAndGlyphs">5A</text>
<text x="947" y="955.4">8</text>
</g>
<g fill="#000">
<rect x="280.5" y="832.4" width="10.9" height="2.8"/>
<rect x="229" y="860.4" width="10.8" height="2.8"/>
<rect x="664.8" y="1121" width="11.2" height="2.8"/>
<rect x="627.1" y="1197.3" width="10.5" height="2.8"/>
<rect x="659" y="1197.3" width="10.8" height="2.8"/>
</g>
<g style="font-size:22.6px;fill:#222" text-anchor="middle">
<text x="1025.7" y="619.8">CYLINDER</text>
<text x="1025.7" y="643.9">HEAD</text>
</g>
<!-- red annotation -->
<g stroke="#ED1C24" fill="none" stroke-width="4" stroke-linecap="round">
<circle cx="952.9" cy="949" r="30.8"/>
<path d="M939,936L901.6,866.7M901.6,906.6L901.6,866.7L939.5,875.8"/>
</g>
<text x="992" y="1002.5" textLength="215" lengthAdjust="spacing" style="font-size:50px;fill:#ED1C24">342-8497</text>
</svg>
</body></html>
